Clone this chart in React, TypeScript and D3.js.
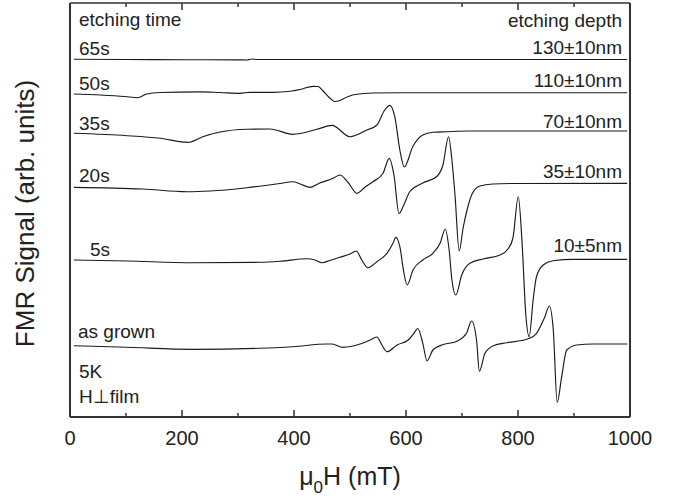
import * as d3 from "d3";

// field axis ticks (mT)
const majorTicks = [0, 200, 400, 600, 800, 1000];
const minorTicks = [100, 300, 500, 700, 900];

// etching steps, top to bottom
const timeLabels = ["65s", "50s", "35s", "20s", "5s", "as grown"];
const depthLabels = ["130±10nm", "110±10nm", "70±10nm", "35±10nm", "10±5nm", ""];
// vertical offset of each spectrum (arb. units)
const offsets = [357.5, 324.3, 286, 233.7, 157.7, 73];

// spectra: field (mT) and derivative signal (arb. units) relative to offset
const field65 = [7, 100, 200, 300, 316, 325, 334, 400, 500, 995];
const signal65 = [0.2, 0, -0.2, -0.4, -0.5, 0.5, 0, 0, 0, 0];

const field50 = [7, 54, 98, 121, 137, 161, 232, 268, 304, 321, 362, 393, 411, 434, 443, 452, 464, 473, 482, 495, 509, 541, 589, 995];
const signal50 = [-1.3, -2.3, -3.8, -5, -1.3, 0.2, 0.9, 0.2, -0.6, 0.4, 0.4, 1.4, 3.2, 6.4, 6.2, 1.7, -5.3, -8.8, -7.8, -4.3, -1.8, -0.3, 0, 0];

const field35 = [7, 102, 161, 211, 237, 268, 316, 357, 398, 441, 468, 500, 530, 548, 562, 571, 580, 589, 597, 612, 630, 648, 673, 714, 995];
const signal35 = [-2.3, -4.7, -7.3, -11.3, -5.7, -1, 1.7, 2, -3.3, 1.7, 5.7, -5.7, 1, 6, 21, 25.7, 14.3, -19, -36, -15.7, -4, -1.3, -0.7, 0, 0];

const field20 = [7, 130, 209, 250, 316, 375, 398, 411, 429, 446, 470, 482, 496, 512.5, 527, 541, 559, 570, 578.5, 587.5, 596, 607, 630, 655, 666, 676, 682, 687.5, 695, 702, 709, 718, 732, 755, 791, 995];
const signal20 = [-4, -5.7, -8.4, -7.7, -4.4, -0.2, 1.6, -0.7, -4, 0.3, 5, 8.3, 1.3, -10, -3.7, 1.6, 10, 25, 8.3, -30.2, -21.7, -8.2, 0.3, 6.8, 18.3, 46.6, 23.3, -11.7, -67.7, -44.7, -26.7, -10.7, -2.7, -0.7, -0.2, 0];

const field5 = [7, 102, 220, 339, 375, 423, 437.5, 450, 464, 482, 500, 511, 521, 532, 548, 566, 577, 582, 589, 596, 602, 612.5, 630, 648, 661, 670, 677, 682, 689, 699.5, 714, 737.5, 768, 782, 791, 800.5, 807, 814, 820, 827, 833, 845, 862.5, 898, 995];
const signal5 = [-0.7, -1.7, -3.4, -3, -2, 0.6, -0.7, -3.4, -1.2, 2, 5.3, 8.3, -0.7, -8.4, -2.4, 6, 16.3, 22, 12.6, -12.7, -25.7, -10.7, -0.7, 6, 16.3, 30, 9.3, -20.7, -35.7, -15.7, -4, 0.3, 4.3, 10.3, 21.3, 62.6, 19.3, -55.7, -77.4, -40.7, -17.4, -5.7, -1.4, 0, 0];

const fieldGrown = [7, 102, 220, 339, 398, 459, 468, 487.5, 518, 536, 548, 557, 566, 584, 604, 614, 621, 630, 637.5, 648, 664, 691, 708, 717, 726, 731, 741, 756, 780, 815.5, 833, 848, 856, 863, 870, 878, 887, 905, 934, 995];
const signalGrown = [-1.7, -3.3, -5.3, -4.3, -2.7, 0, 0, -3.3, 0, 4, 7, -1, -7.7, -1, 4, 10.7, 15.5, 0.7, -16.8, -6, -1, 2.8, 10.7, 23, 4, -27.2, -9.3, -1.7, 1.3, 4.7, 10.7, 27.3, 38, 14, -58.3, -32.7, -6, -1, 0, 0];

const fields = [field65, field50, field35, field20, field5, fieldGrown];
const signals = [signal65, signal50, signal35, signal20, signal5, signalGrown];

// label placement (pixels)
const timeLabelX = [79, 79, 79, 79, 90, 78];
const timeLabelY = [55, 90, 130, 181.7, 256, 338.3];
const depthLabelY = [54, 87.3, 127.7, 178.3, 252.3, 0];

const font = "'Liberation Sans', Arial, Helvetica, sans-serif";
const ink = "#222";

export default function App() {
  const width = 682;
  const height = 498;
  const left = 70, right = 630, top = 3, bottom = 417;

  const x = d3.scaleLinear().domain([0, 1000]).range([left, right]);
  const y = d3.scaleLinear().domain([0, 414]).range([bottom, top]);

  const line = d3
    .line<[number, number]>()
    .x((d) => x(d[0]))
    .y((d) => y(d[1]))
    .curve(d3.curveMonotoneX);

  return (
    <svg
      width={width}
      height={height}
      style={{ position: "absolute", left: 0, top: 0, background: "#fff" }}
      fontFamily={font}
    >
      <rect width={width} height={height} fill="#fff" />

      {/* spectra */}
      {fields.map((f, i) => (
        <path
          key={i}
          d={line(f.map((v, j) => [v, offsets[i] + signals[i][j]] as [number, number])) || ""}
          fill="none"
          stroke="#1a1a1a"
          strokeWidth={1.15}
          strokeLinejoin="round"
        />
      ))}

      {/* frame */}
      <line x1={left} x2={right} y1={top} y2={top} stroke="#333" strokeWidth={1.5} />
      <line x1={left} x2={right} y1={bottom} y2={bottom} stroke="#333" strokeWidth={2} />
      <line x1={left} x2={left} y1={top} y2={bottom} stroke="#333" strokeWidth={2} />
      <line x1={right} x2={right} y1={top} y2={bottom} stroke="#333" strokeWidth={2} />

      {/* ticks, inward on top and bottom */}
      {majorTicks.map((t) => (
        <g key={"M" + t} stroke="#333" strokeWidth={1.5}>
          <line x1={x(t)} x2={x(t)} y1={bottom} y2={bottom - 7} />
          <line x1={x(t)} x2={x(t)} y1={top} y2={top + 7} />
        </g>
      ))}
      {minorTicks.map((t) => (
        <g key={"m" + t} stroke="#333" strokeWidth={1.5}>
          <line x1={x(t)} x2={x(t)} y1={bottom} y2={bottom - 4} />
          <line x1={x(t)} x2={x(t)} y1={top} y2={top + 4} />
        </g>
      ))}
      {majorTicks.map((t) => (
        <text key={"t" + t} x={x(t)} y={445} textAnchor="middle" fontSize={20} fill={ink}>
          {t}
        </text>
      ))}

      {/* axis titles */}
      <text x={350} y={485} textAnchor="middle" fontSize={25} fill={ink}>
        μ<tspan fontSize={17} dy={8}>0</tspan>
        <tspan dy={-8}>H (mT)</tspan>
      </text>
      <text
        transform="translate(33.5,213.5) rotate(-90)"
        textAnchor="middle"
        fontSize={26}
        fill={ink}
      >
        FMR Signal (arb. units)
      </text>

      {/* annotations */}
      <text x={79} y={26} fontSize={19} fill={ink}>etching time</text>
      <text x={622} y={26.7} fontSize={19} fill={ink} textAnchor="end">etching depth</text>
      {timeLabels.map((s, i) => (
        <text key={"l" + i} x={timeLabelX[i]} y={timeLabelY[i]} fontSize={19} fill={ink}>
          {s}
        </text>
      ))}
      {depthLabels.map((s, i) =>
        s ? (
          <text key={"r" + i} x={622} y={depthLabelY[i]} fontSize={19} fill={ink} textAnchor="end">
            {s}
          </text>
        ) : null
      )}
      <text x={79} y={378} fontSize={19} fill={ink}>5K</text>
      <text x={79} y={402.7} fontSize={19} fill={ink}>H⊥film</text>
    </svg>
  );
}
